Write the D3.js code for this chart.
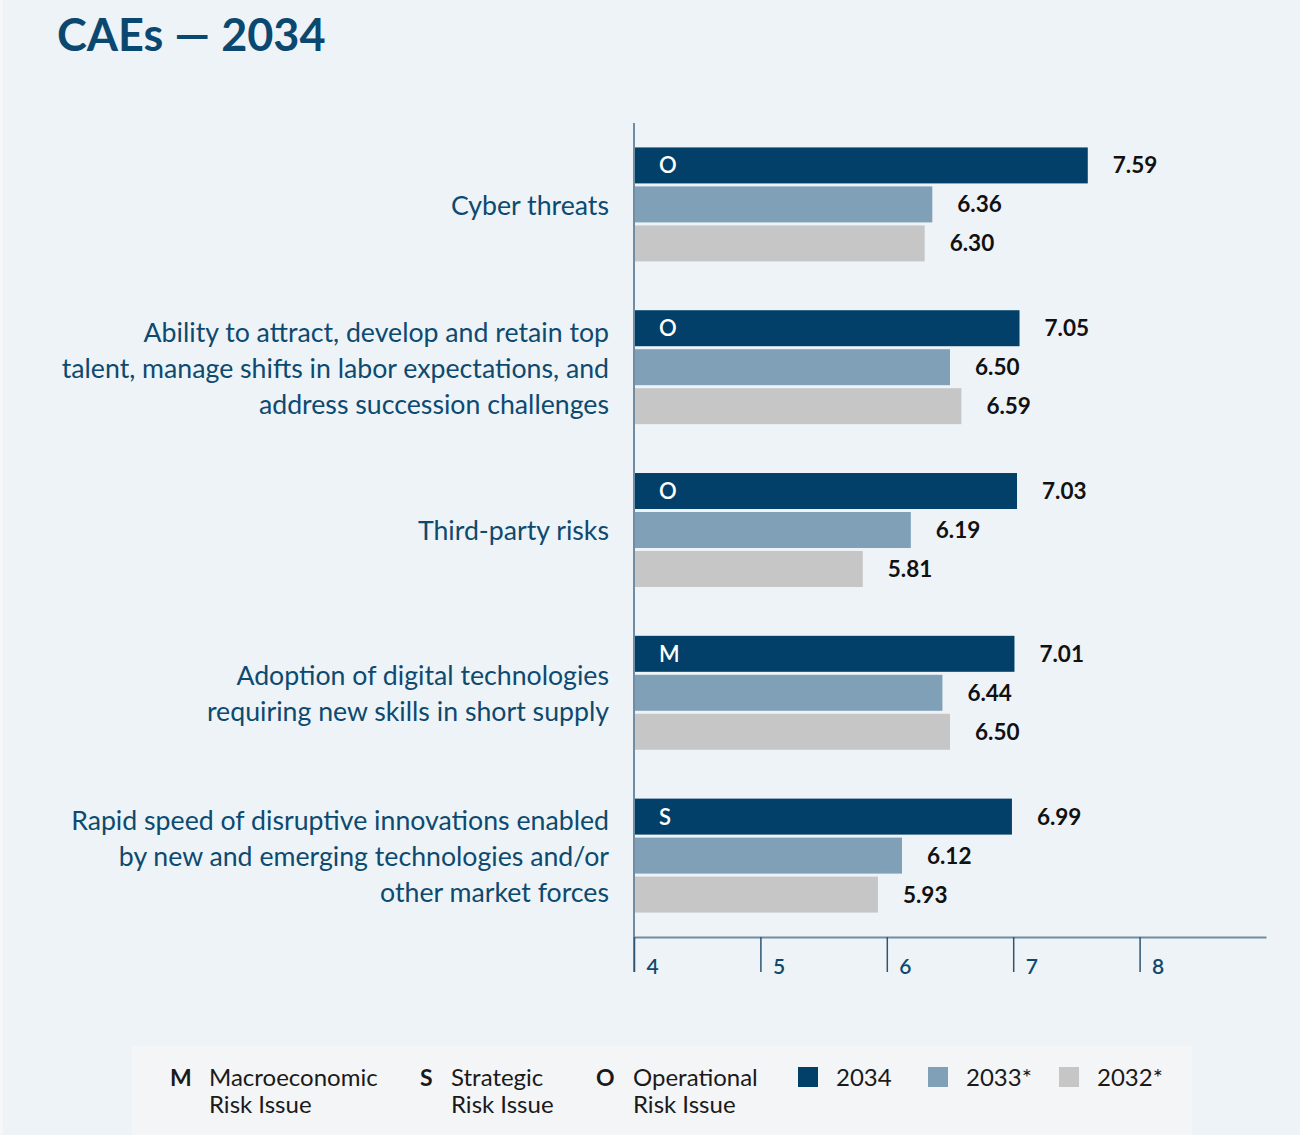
<!DOCTYPE html>
<html>
<head>
<meta charset="utf-8">
<script src="https://cdn.jsdelivr.net/npm/d3@7"></script>
<style>
  body { margin: 0; background: #eef3f7; }
  svg { display: block; font-family: Lato, "Open Sans", sans-serif; }
</style>
</head>
<body>
<script>
const w = 1300;
const h = 1135;

// chart values
const categories = [
    ["Cyber threats"],
    ["Ability to attract, develop and retain top", "talent, manage shifts in labor expectations, and", "address succession challenges"],
    ["Third-party risks"],
    ["Adoption of digital technologies", "requiring new skills in short supply"],
    ["Rapid speed of disruptive innovations enabled", "by new and emerging technologies and/or", "other market forces"]
];
const riskTypes = ["O", "O", "O", "M", "S"];
const series = ["2034", "2033*", "2032*"];
const values2034 = [7.59, 7.05, 7.03, 7.01, 6.99];
const values2033 = [6.36, 6.50, 6.19, 6.44, 6.12];
const values2032 = [6.30, 6.59, 5.81, 6.50, 5.93];
const tickValues = [4, 5, 6, 7, 8];
const riskLegend = [
    { key: "M", lines: ["Macroeconomic", "Risk Issue"] },
    { key: "S", lines: ["Strategic", "Risk Issue"] },
    { key: "O", lines: ["Operational", "Risk Issue"] }
];

const colors = { "2034": "#02406a", "2033*": "#7fa0b7", "2032*": "#c6c6c6" };
const labelColor = "#0d4a70";

const svg = d3.select("body")
    .append("svg")
    .attr("width", w)
    .attr("height", h);

svg.append("rect").attr("width", w).attr("height", h).attr("fill", "#eef3f7");
svg.append("rect").attr("width", 3).attr("height", h).attr("fill", "#f5f7f9");

// Title
svg.append("text")
    .attr("x", 57)
    .attr("y", 51)
    .attr("font-size", 45)
    .attr("font-weight", 700)
    .attr("fill", "#0b4870")
    .text("CAEs — 2034");

const rows = categories.map((c, i) => ({
    id: i,
    lines: c,
    type: riskTypes[i],
    vals: [values2034[i], values2033[i], values2032[i]]
}));

// Scales
const xScale = d3.scaleLinear().domain([4, 9]).range([634, 1266]);

const yScale = d3.scaleBand()
    .domain(rows.map(d => d.id))
    .range([123, 937])
    .paddingInner(0.3)
    .paddingOuter(0.15);

const ySub = d3.scaleBand()
    .domain(series)
    .range([0, yScale.bandwidth()])
    .paddingInner(0.077);

// Bars
const groups = svg.selectAll("g.group")
    .data(rows)
    .enter()
    .append("g")
    .attr("class", "group")
    .attr("transform", d => `translate(0, ${yScale(d.id)})`);

groups.selectAll("rect")
    .data(d => d.vals.map((v, j) => ({ v, s: series[j] })))
    .enter()
    .append("rect")
    .attr("x", xScale(4))
    .attr("y", d => ySub(d.s))
    .attr("width", d => xScale(d.v) - xScale(4))
    .attr("height", ySub.bandwidth())
    .attr("fill", d => colors[d.s]);

groups.selectAll("text.value")
    .data(d => d.vals.map((v, j) => ({ v, s: series[j] })))
    .enter()
    .append("text")
    .attr("class", "value")
    .attr("x", d => xScale(d.v) + 25)
    .attr("y", d => ySub(d.s) + ySub.bandwidth() / 2)
    .attr("dy", "0.36em")
    .attr("font-size", 22.5)
    .attr("font-weight", 700)
    .attr("fill", "#111")
    .text(d => d3.format(".2f")(d.v));

// Risk letter inside 2034 bar
groups.append("text")
    .attr("x", xScale(4) + 25)
    .attr("y", ySub("2034") + ySub.bandwidth() / 2)
    .attr("dy", "0.36em")
    .attr("font-size", 22)
    .attr("font-weight", 600)
    .attr("fill", "#fff")
    .text(d => d.type);

// Category labels
const lineH = 36;
groups.append("text")
    .attr("text-anchor", "end")
    .attr("font-size", 26.7)
    .attr("fill", labelColor)
    .each(function (d) {
        const t = d3.select(this);
        const mid = yScale.bandwidth() / 2;
        const start = mid - (d.lines.length - 1) * lineH / 2;
        d.lines.forEach((line, k) => {
            t.append("tspan")
                .attr("x", 609)
                .attr("y", start + k * lineH + 1)
                .attr("dy", "0.35em")
                .text(line);
        });
    });

// Axes
const axisColor = "#6f8ea5";

svg.append("line")
    .attr("x1", xScale(4)).attr("x2", xScale(4))
    .attr("y1", 123).attr("y2", 972)
    .attr("stroke", axisColor)
    .attr("stroke-width", 2);

const xAxis = d3.axisBottom(xScale)
    .tickValues(tickValues)
    .tickSize(35)
    .tickSizeOuter(0)
    .tickFormat(d3.format("d"));

const gx = svg.append("g")
    .attr("class", "x axis")
    .attr("transform", `translate(0, 937)`)
    .call(xAxis);

gx.select(".domain").attr("stroke", axisColor).attr("stroke-width", 2);
gx.selectAll(".tick line").attr("stroke", "#2d5573").attr("stroke-width", 1.5);
gx.selectAll(".tick text")
    .attr("x", 12)
    .attr("y", 22)
    .attr("dy", "0.71em")
    .attr("text-anchor", "start")
    .attr("font-family", "Lato, sans-serif")
    .attr("font-size", 21)
    .attr("font-weight", 600)
    .attr("fill", labelColor);

// Legend
svg.append("rect")
    .attr("x", 132)
    .attr("y", 1046)
    .attr("width", 1060)
    .attr("height", 89)
    .attr("fill", "#f4f5f6");

const riskX = [170, 420, 596];
riskLegend.forEach((r, i) => {
    svg.append("text")
        .attr("x", riskX[i])
        .attr("y", 1086)
        .attr("font-size", 23)
        .attr("font-weight", 700)
        .attr("fill", "#1a1a1a")
        .text(r.key);
    const t = svg.append("text")
        .attr("font-size", 24)
        .attr("fill", "#1a1a1a");
    r.lines.forEach((line, k) => {
        t.append("tspan")
            .attr("x", riskX[i] + (r.key === "M" ? 39 : r.key === "S" ? 31 : 37))
            .attr("y", 1086 + k * 27)
            .text(line);
    });
});

const swatchX = [798, 928, 1059];
series.forEach((s, i) => {
    svg.append("rect")
        .attr("x", swatchX[i])
        .attr("y", 1067)
        .attr("width", 20)
        .attr("height", 20)
        .attr("fill", colors[s]);
    svg.append("text")
        .attr("x", swatchX[i] + 38)
        .attr("y", 1086)
        .attr("font-size", 24)
        .attr("fill", "#1a1a1a")
        .text(s);
});
</script>
</body>
</html>
